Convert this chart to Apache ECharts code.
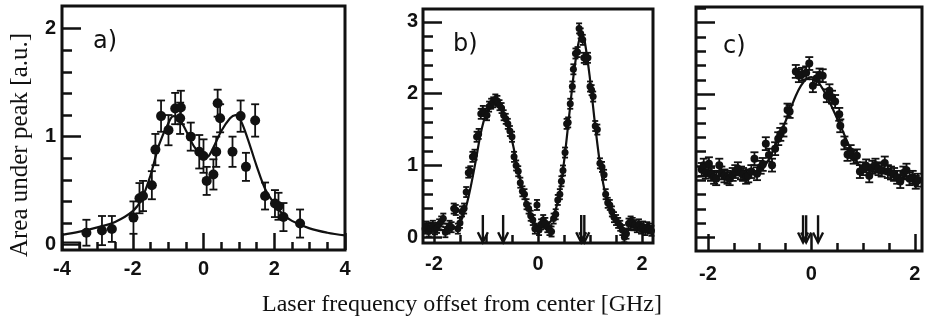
<!DOCTYPE html>
<html><head><meta charset="utf-8">
<script src="https://cdn.jsdelivr.net/npm/echarts@6/dist/echarts.min.js"></script>
<style>html,body{margin:0;padding:0;background:#fff}#c{width:928px;height:323px}</style>
</head><body><div id="c"></div>
<script>
// ---------- Panel a ----------
const aX = [-3.31,-2.87,-2.59,-1.98,-1.81,-1.71,-1.46,-1.36,-1.20,-0.99,-0.80,-0.64,-0.66,-0.36,-0.12,0.00,0.09,0.28,0.36,0.40,0.47,0.82,1.05,1.20,1.46,1.74,2.02,2.12,2.26,2.73];
const aY = [0.11,0.13,0.145,0.25,0.43,0.45,0.55,0.88,1.19,1.06,1.26,1.27,1.17,1.00,0.86,0.82,0.59,0.65,0.86,1.31,1.17,0.86,1.19,0.72,1.15,0.45,0.38,0.355,0.255,0.195];
const aErr = [0.12,0.135,0.12,0.15,0.14,0.14,0.13,0.145,0.145,0.14,0.145,0.155,0.145,0.13,0.155,0.155,0.13,0.14,0.14,0.125,0.13,0.14,0.145,0.13,0.15,0.125,0.125,0.125,0.13,0.13];
const aFitX = [-4.0,-3.5,-3.0,-2.5,-2.0,-1.75,-1.5,-1.25,-1.0,-0.85,-0.7,-0.5,-0.25,0.0,0.1,0.25,0.5,0.75,0.9,1.05,1.25,1.5,1.75,2.0,2.25,2.5,3.0,3.5,4.0];
const aFitY = [0.09,0.12,0.16,0.21,0.31,0.42,0.64,0.93,1.12,1.19,1.17,1.06,0.90,0.82,0.81,0.88,1.05,1.17,1.20,1.15,0.98,0.73,0.51,0.38,0.28,0.22,0.15,0.11,0.085];
const aBoxX = [-4.0,-3.48,-3.48];
const aBoxY = [0.022,0.022,-0.05];
const aXTicks = [-4,-2,0,2,4];
const aXMinor = [-3.5,-3,-2.5,-1.5,-1,-0.5,0.5,1,1.5,2.5,3,3.5];
const aYTicks = [0,1,2];
const aYMinor = [0.2,0.4,0.6,0.8,1.2,1.4,1.6,1.8];

// ---------- Panel b ----------
const bX = [-2.17,-2.14,-2.10,-2.06,-2.02,-1.98,-1.94,-1.90,-1.86,-1.82,-1.78,-1.74,-1.70,-1.66,-1.62,-1.58,-1.54,-1.50,-1.46,-1.42,-1.38,-1.34,-1.30,-1.26,-1.22,-1.18,-1.14,-1.10,-1.06,-1.02,-0.98,-0.94,-0.90,-0.86,-0.82,-0.78,-0.74,-0.70,-0.66,-0.62,-0.58,-0.54,-0.50,-0.46,-0.42,-0.38,-0.34,-0.30,-0.26,-0.22,-0.18,-0.14,-0.10,-0.06,-0.02,0.02,0.06,0.10,0.14,0.18,0.22,0.26,0.30,0.34,0.38,0.42,0.45,0.48,0.52,0.55,0.58,0.62,0.66,0.68,0.72,0.76,0.79,0.82,0.86,0.88,0.92,0.96,1.00,1.03,1.06,1.10,1.14,1.19,1.23,1.27,1.30,1.34,1.38,1.42,1.46,1.50,1.54,1.58,1.62,1.66,1.70,1.74,1.78,1.82,1.86,1.90,1.94,1.98,2.02,2.06,2.10,2.14,2.18];
const bY = [0.12,0.15,0.08,0.13,0.16,0.11,0.13,0.18,0.22,0.26,0.07,0.12,0.16,0.14,0.40,0.38,0.12,0.20,0.36,0.40,0.63,0.90,0.92,1.12,1.15,1.40,1.44,1.72,1.76,1.72,1.70,1.82,1.86,1.88,1.92,1.90,1.84,1.80,1.70,1.65,1.58,1.48,1.40,1.12,1.00,0.92,0.76,0.64,0.60,0.46,0.40,0.30,0.24,0.12,0.45,0.10,0.18,0.24,0.20,0.14,0.10,0.08,0.26,0.32,0.52,0.60,0.78,0.93,1.18,1.58,1.60,1.86,2.10,2.34,2.56,2.58,2.91,2.84,2.75,2.50,2.48,2.50,2.10,2.05,1.96,1.55,1.50,1.03,0.98,0.87,0.60,0.48,0.45,0.36,0.28,0.24,0.20,0.16,0.10,0.00,0.05,0.19,0.22,0.20,0.17,0.14,0.18,0.12,0.15,0.10,0.14,0.12,0.09];
const bErr = 0.07;
const bFitX = [-2.21,-1.8,-1.6,-1.5,-1.4,-1.3,-1.2,-1.1,-1.0,-0.9,-0.8,-0.7,-0.6,-0.5,-0.4,-0.3,-0.2,-0.1,0.0,0.1,0.2,0.3,0.4,0.5,0.6,0.7,0.8,0.85,0.9,1.0,1.1,1.2,1.3,1.4,1.5,1.6,1.8,2.21];
const bFitY = [0.1,0.1,0.13,0.2,0.38,0.68,1.05,1.45,1.72,1.85,1.88,1.80,1.62,1.35,1.00,0.67,0.42,0.24,0.15,0.14,0.18,0.30,0.56,1.05,1.70,2.35,2.78,2.82,2.72,2.20,1.55,0.98,0.58,0.33,0.20,0.13,0.10,0.10];
const bArrows = [-1.06,-0.67,0.83,0.89];
const bXTicks = [-2,0,2];
const bXMinor = [-1.5,-1,-0.5,0.5,1,1.5];
const bYTicks = [0,1,2,3];
const bYMinor = [0.2,0.4,0.6,0.8,1.2,1.4,1.6,1.8,2.2,2.4,2.6,2.8];

// ---------- Panel c ----------
const cX = [-2.12,-2.08,-2.04,-1.98,-1.94,-1.88,-1.84,-1.78,-1.74,-1.68,-1.62,-1.58,-1.52,-1.47,-1.42,-1.36,-1.32,-1.26,-1.22,-1.16,-1.10,-1.05,-0.98,-0.94,-0.88,-0.82,-0.76,-0.70,-0.64,-0.60,-0.54,-0.46,-0.42,-0.30,-0.24,-0.18,-0.10,-0.04,0.03,0.10,0.16,0.22,0.30,0.35,0.40,0.46,0.54,0.56,0.64,0.70,0.76,0.82,0.88,0.94,1.00,1.06,1.12,1.18,1.24,1.30,1.36,1.42,1.48,1.54,1.60,1.66,1.72,1.78,1.84,1.90,1.96,2.02,2.06];
const cY = [0.95,1.01,0.91,1.03,0.88,0.84,0.82,1.01,0.90,0.86,0.84,0.82,0.88,0.92,0.96,0.90,0.88,0.84,0.86,0.92,1.10,0.89,0.98,1.02,1.31,1.15,1.01,1.24,1.38,1.44,1.50,1.78,1.76,2.32,2.26,2.28,2.30,2.43,2.12,2.22,2.27,2.26,1.98,2.05,1.96,1.90,1.72,1.56,1.32,1.16,1.20,1.12,1.14,0.92,0.96,1.00,0.86,0.98,1.01,0.96,0.94,1.04,0.92,0.90,0.88,0.84,0.78,0.90,0.94,0.82,0.84,0.77,0.80];
const cErr = 0.09;
const cFitX = [-2.23,-1.8,-1.4,-1.2,-1.0,-0.9,-0.8,-0.7,-0.6,-0.5,-0.4,-0.3,-0.2,-0.1,0.0,0.1,0.2,0.3,0.4,0.5,0.6,0.7,0.8,0.9,1.0,1.2,1.5,1.8,2.14];
const cFitY = [0.85,0.86,0.87,0.88,0.93,1.00,1.12,1.28,1.45,1.62,1.80,1.98,2.12,2.21,2.24,2.20,2.10,1.97,1.82,1.66,1.50,1.33,1.16,1.03,0.97,0.92,0.88,0.83,0.78];
const cArrows = [-0.16,-0.10,0.13];
const cXTicks = [-2,0,2];
const cXMinor = [-1.5,-1,-0.5,0.5,1,1.5];
const cYTicks = [0,1,2,3];
const cYMinor = [0.2,0.4,0.6,0.8,1.2,1.4,1.6,1.8,2.2,2.4,2.6,2.8,3.2];
const arrowTop = 0.31, arrowBottom = -0.07;

// ---------- build ----------
const INK = '#111';
const panels = [
  {x:aX,y:aY,err:aErr,fx:aFitX,fy:aFitY,arrows:[],xr:[-4,4],yr:[-0.05,2.21],xt:aXTicks,xm:aXMinor,yt:aYTicks,ym:aYMinor,yl:true,sym:10,cap:4,
   grid:{left:62,top:6,width:283,height:244},xm0:9,ym0:6},
  {x:bX,y:bY,err:bErr,fx:bFitX,fy:bFitY,arrows:bArrows,xr:[-2.21,2.21],yr:[-0.08,3.18],xt:bXTicks,xm:bXMinor,yt:bYTicks,ym:bYMinor,yl:true,sym:7,cap:3,
   grid:{left:423,top:9,width:230,height:234},xm0:11,ym0:5},
  {x:cX,y:cY,err:cErr,fx:cFitX,fy:cFitY,arrows:cArrows,xr:[-2.23,2.14],yr:[-0.19,3.22],xt:cXTicks,xm:cXMinor,yt:cYTicks,ym:cYMinor,yl:false,sym:8,cap:4,
   grid:{left:696,top:7,width:226,height:244},xm0:13,ym0:5}
];

const grid=[], xAxis=[], yAxis=[], series=[];
const lbl = {fontFamily:'"Liberation Sans", Arial, sans-serif', fontWeight:'bold', fontSize:20, color:INK};
panels.forEach((p,i)=>{
  grid.push(Object.assign({show:true, borderColor:INK, borderWidth:3, backgroundColor:'transparent'}, p.grid));
  const mk = (pos, range, major, minor, showLbl, margin, majLen, minLen) => ([
    {gridIndex:i, type:'value', position:pos, min:range[0], max:range[1], axisLine:{show:false, onZero:false}, splitLine:{show:false},
     axisTick:{show:true, inside:true, length:majLen, customValues:major, lineStyle:{color:INK,width:2.5}},
     axisLabel:Object.assign({show:showLbl, customValues:major, margin:margin}, lbl)},
    {gridIndex:i, type:'value', position:pos, min:range[0], max:range[1], axisLine:{show:false, onZero:false}, splitLine:{show:false},
     axisTick:{show:true, inside:true, length:minLen, customValues:minor, lineStyle:{color:INK,width:2.5}},
     axisLabel:{show:false}}
  ]);
  xAxis.push(...mk('bottom', p.xr, p.xt, p.xm, true, p.xm0, 17, 8));
  yAxis.push(...mk('left', p.yr, p.yt, p.ym, p.yl, p.ym0, 19, 10));
  const xi = i*2;
  series.push({type:'line', xAxisIndex:xi, yAxisIndex:xi, data:p.fx.map((v,k)=>[v,p.fy[k]]), smooth:0.35,
    showSymbol:false, symbol:'none', lineStyle:{color:INK,width:2.2}, z:2, silent:true});
  const cap = p.cap;
  series.push({type:'custom', xAxisIndex:xi, yAxisIndex:xi, z:3, silent:true,
    data:p.x.map((v,k)=>{const e = Array.isArray(p.err)?p.err[k]:p.err; return [v,p.y[k]-e,p.y[k]+e];}),
    renderItem:(params,api)=>{
      const x=api.value(0), lo=api.value(1), hi=api.value(2);
      const a=api.coord([x,hi]), b=api.coord([x,lo]);
      const st={stroke:INK,lineWidth:1.8};
      return {type:'group',children:[
        {type:'line',shape:{x1:a[0],y1:a[1],x2:b[0],y2:b[1]},style:st},
        {type:'line',shape:{x1:a[0]-cap,y1:a[1],x2:a[0]+cap,y2:a[1]},style:st},
        {type:'line',shape:{x1:b[0]-cap,y1:b[1],x2:b[0]+cap,y2:b[1]},style:st}
      ]};
    }});
  series.push({type:'scatter', xAxisIndex:xi, yAxisIndex:xi, data:p.x.map((v,k)=>[v,p.y[k]]),
    symbol:'circle', symbolSize:p.sym, itemStyle:{color:INK, opacity:1}, z:4, silent:true});
  if (p.arrows.length) {
    series.push({type:'custom', xAxisIndex:xi, yAxisIndex:xi, z:5, silent:true,
      data:p.arrows.map(v=>[v]),
      renderItem:(params,api)=>{
        const x=api.value(0);
        const t=api.coord([x,arrowTop]), b=api.coord([x,arrowBottom]);
        const st={stroke:INK,lineWidth:2.4,fill:null};
        return {type:'group',children:[
          {type:'line',shape:{x1:t[0],y1:t[1],x2:b[0],y2:b[1]},style:st},
          {type:'polyline',shape:{points:[[b[0]-5,b[1]-10],[b[0],b[1]],[b[0]+5,b[1]-10]]},style:st}
        ]};
      }});
  }
});
// small outlined box at bottom-left of panel a
series.push({type:'line', xAxisIndex:0, yAxisIndex:0, data:aBoxX.map((v,k)=>[v,aBoxY[k]]),
  showSymbol:false, symbol:'none', lineStyle:{color:INK,width:1.5}, z:2, silent:true});

const chart = echarts.init(document.getElementById('c'));
chart.setOption({
  animation:false,
  grid, xAxis, yAxis, series,
  graphic:[
    {type:'text', left:93, top:30, style:{text:'a)', font:'24px "DejaVu Sans"', fill:INK}},
    {type:'text', left:453, top:33, style:{text:'b)', font:'24px "DejaVu Sans"', fill:INK}},
    {type:'text', left:723, top:35, style:{text:'c)', font:'24px "DejaVu Sans"', fill:INK}},
    {type:'text', x:20, y:145, rotation:Math.PI/2, style:{text:'Area under peak [a.u.]', font:'25px "Liberation Serif"', fill:INK, align:'center', verticalAlign:'middle'}},
    {type:'text', x:462, y:305, style:{text:'Laser frequency offset from center [GHz]', font:'24px "Liberation Serif"', fill:INK, align:'center', verticalAlign:'middle'}}
  ]
});
</script></body></html>
